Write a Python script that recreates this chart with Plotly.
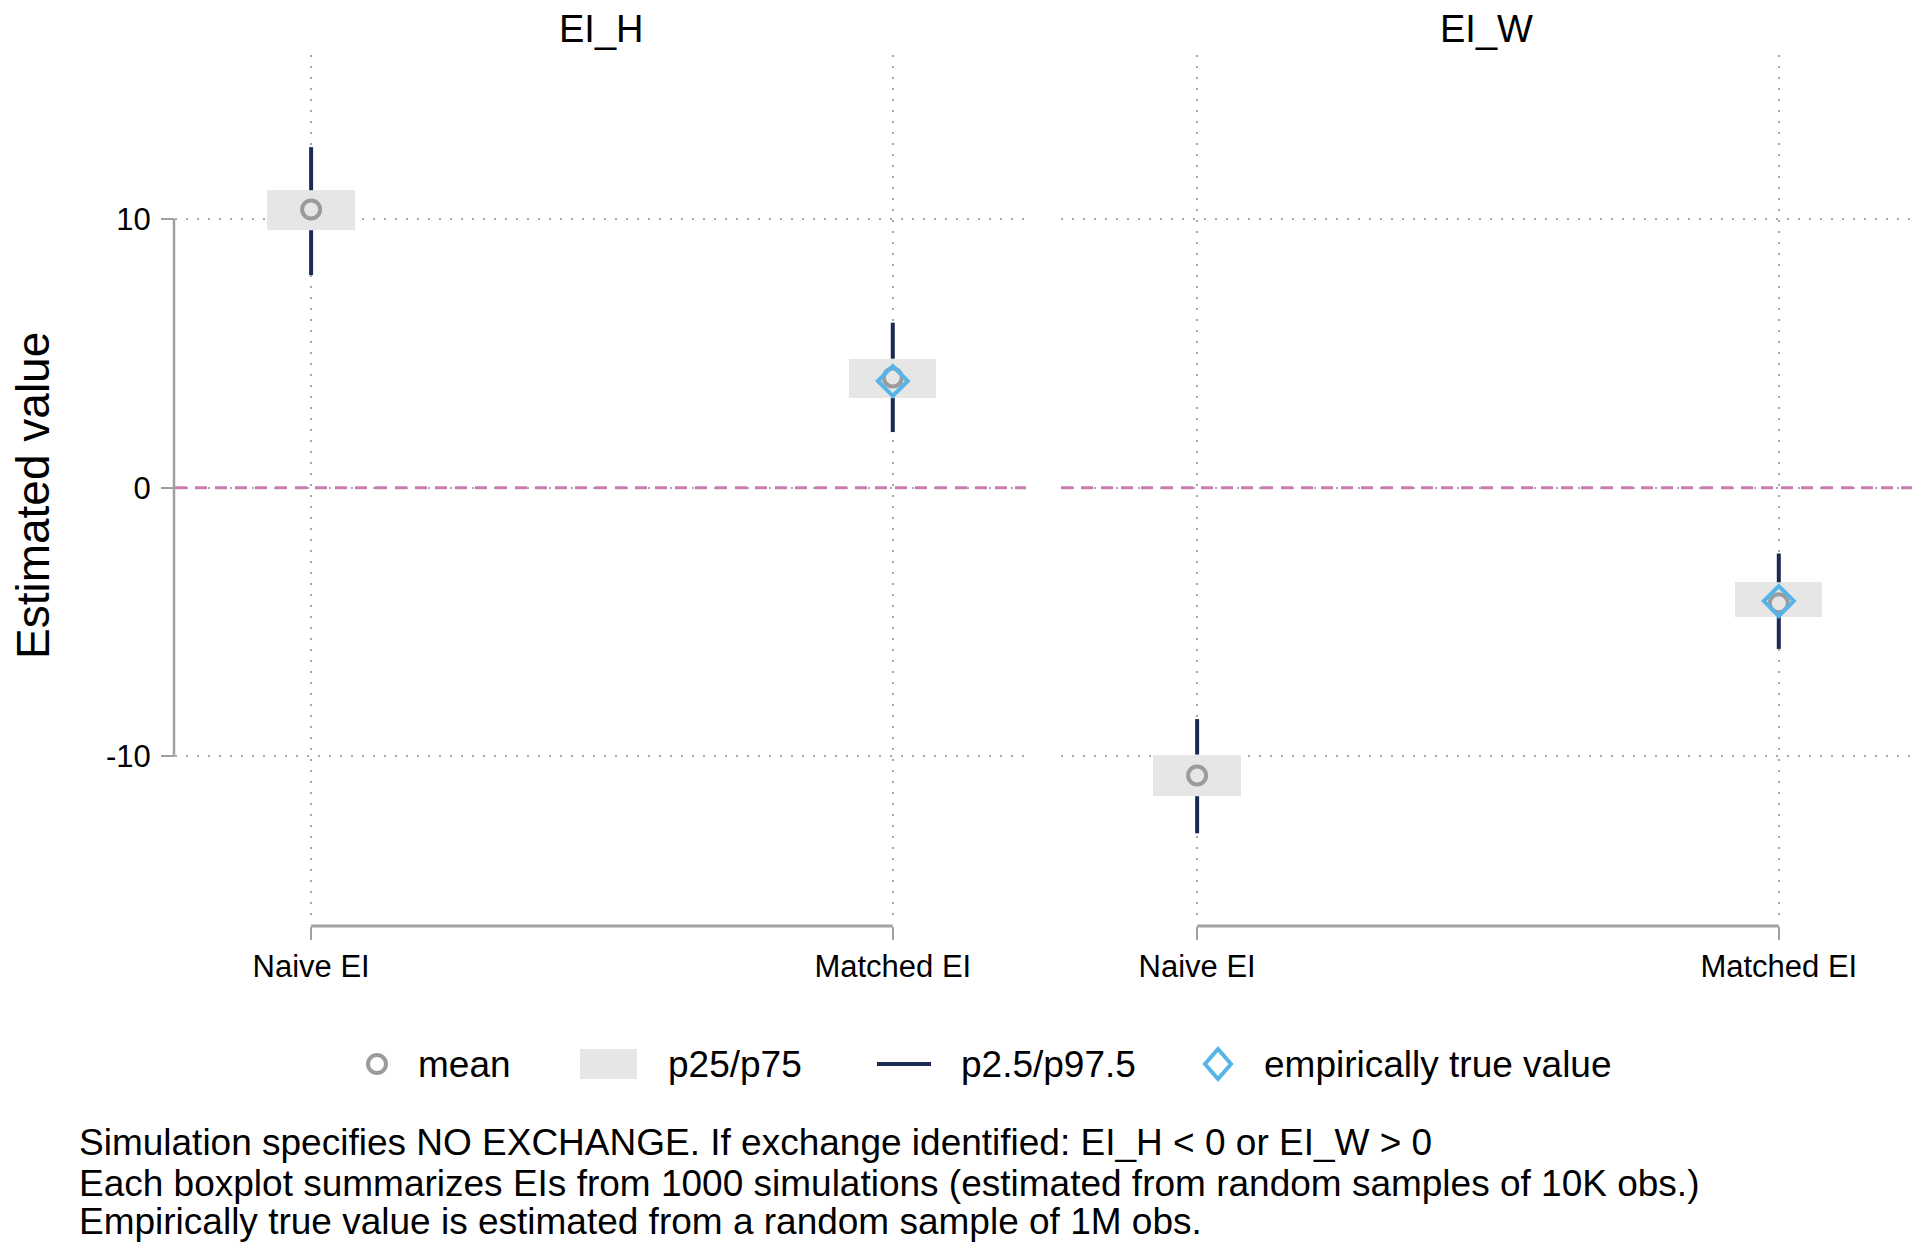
import plotly.graph_objects as go

# ---------------- data ----------------
categories = ["Naive EI", "Matched EI"]
cat_pos = [0, 1]
panels = ["EI_H", "EI_W"]

# EI_H panel
h_mean = [10.35, 4.10]
h_p25 = [9.58, 3.34]
h_p75 = [11.07, 4.80]
h_p2_5 = [7.91, 2.07]
h_p97_5 = [12.67, 6.14]
h_true = [None, 3.97]

# EI_W panel
w_mean = [-10.71, -4.30]
w_p25 = [-11.48, -4.81]
w_p75 = [-9.93, -3.52]
w_p2_5 = [-12.86, -6.00]
w_p97_5 = [-8.61, -2.45]
w_true = [None, -4.22]

y_ticks = [-10, 0, 10]
y_ticktext = ["-10", "0", "10"]
notes = [
    "Simulation specifies NO EXCHANGE. If exchange identified: EI_H < 0 or EI_W > 0",
    "Each boxplot summarizes EIs from 1000 simulations (estimated from random samples of 10K obs.)",
    "Empirically true value is estimated from a random sample of 1M obs.",
]
legend_labels = ["mean", "p25/p75", "p2.5/p97.5", "empirically true value"]

# ---------------- style ----------------
OFF = 8                      # page body margin
W, H = 1920 - OFF, 1247 - OFF
FONT = "Liberation Sans, Arial, Helvetica, sans-serif"
BOX_C = "#e6e6e6"
WHISK_C = "#1b2a55"
MEAN_C = "#9b9b9b"
TRUE_C = "#56b4e9"
ZERO_C = "#c97daf"
GRID_C = "#a8a8a8"
AXIS_C = "#a0a0a0"

def fx(px):
    return (px - OFF) / W

def fy(py):
    return 1 - (py - OFF) / H

x_range = [-0.234, 1.229]
y_range = [-15.9, 16.1]
y_dom = [fy(915), fy(55)]
x_doms = [[fx(175), fx(1026)], [fx(1061), fx(1912)]]
box_w = 0.15

fig = go.Figure()

panel_data = [
    (h_mean, h_p25, h_p75, h_p2_5, h_p97_5, h_true),
    (w_mean, w_p25, w_p75, w_p2_5, w_p97_5, w_true),
]

for i, (mn, p25, p75, lo, hi, tv) in enumerate(panel_data):
    xa = "x" if i == 0 else "x2"
    ya = "y" if i == 0 else "y2"
    # boxes p25/p75
    fig.add_trace(go.Bar(
        x=cat_pos, y=[b - a for a, b in zip(p25, p75)], base=p25,
        width=box_w, marker=dict(color=BOX_C, line=dict(width=0)),
        xaxis=xa, yaxis=ya, showlegend=False, hoverinfo="skip"))
    # whiskers (two segments each)
    wx, wy = [], []
    for c, a, b, c2, d in zip(cat_pos, lo, p25, p75, hi):
        wx += [c, c, None, c, c, None]
        wy += [a, b, None, c2, d, None]
    fig.add_trace(go.Scatter(
        x=wx, y=wy, mode="lines", line=dict(color=WHISK_C, width=4),
        xaxis=xa, yaxis=ya, showlegend=False, hoverinfo="skip"))
    # mean
    fig.add_trace(go.Scatter(
        x=cat_pos, y=mn, mode="markers",
        marker=dict(symbol="circle-open", size=18, color=MEAN_C, line=dict(width=4, color=MEAN_C)),
        xaxis=xa, yaxis=ya, showlegend=False))
    # empirically true value
    fig.add_trace(go.Scatter(
        x=cat_pos, y=tv, mode="markers",
        marker=dict(symbol="diamond-open", size=23, color=TRUE_C, line=dict(width=4, color=TRUE_C)),
        xaxis=xa, yaxis=ya, showlegend=False))

# zero reference lines
for i in range(2):
    xr = "x domain" if i == 0 else "x2 domain"
    yr = "y" if i == 0 else "y2"
    fig.add_shape(type="line", xref=xr, yref=yr, x0=0, x1=1, y0=0, y1=0,
                  line=dict(color=ZERO_C, width=3, dash="12px,8px"), layer="above")

# axis lines (span only tick range, Stata-like)
fig.add_shape(type="line", xref="paper", yref="y", x0=fx(174), x1=fx(174),
              y0=min(y_ticks), y1=max(y_ticks), line=dict(color=AXIS_C, width=2.5))
for i in range(2):
    xr = "x" if i == 0 else "x2"
    fig.add_shape(type="line", xref=xr, yref="paper", x0=min(cat_pos), x1=max(cat_pos),
                  y0=fy(926), y1=fy(926), line=dict(color=AXIS_C, width=3))

grid_common = dict(showgrid=True, gridcolor=GRID_C, gridwidth=1.5, griddash="2px,9px",
                   zeroline=False, showline=False)

xaxis_common = dict(range=x_range, tickvals=cat_pos, ticktext=categories,
                    ticks="outside", ticklen=13, tickwidth=2, tickcolor=AXIS_C,
                    tickfont=dict(size=31, color="black", family=FONT),
                    anchor="free", position=fy(926), **grid_common)

fig.update_layout(
    width=W, height=H,
    margin=dict(l=0, r=0, t=0, b=0),
    paper_bgcolor="white", plot_bgcolor="white",
    font=dict(family=FONT, color="black"),
    showlegend=False,
    bargap=0,
    xaxis=dict(domain=x_doms[0], **xaxis_common),
    xaxis2=dict(domain=x_doms[1], **xaxis_common),
    yaxis=dict(domain=y_dom, range=y_range, tickvals=y_ticks, ticktext=y_ticktext,
               ticks="outside", ticklen=13, tickwidth=2, tickcolor=AXIS_C,
               ticklabelstandoff=4,
               tickfont=dict(size=31, color="black", family=FONT),
               anchor="free", position=fx(174), **grid_common),
    yaxis2=dict(domain=y_dom, range=y_range, tickvals=y_ticks, showticklabels=False,
                ticks="", anchor="x2", **grid_common),
)

# panel titles
for i, name in enumerate(panels):
    cx = (x_doms[i][0] + x_doms[i][1]) / 2
    fig.add_annotation(text=name, xref="paper", yref="paper", x=cx, y=fy(29),
                       xanchor="center", yanchor="middle", showarrow=False,
                       font=dict(size=38, color="black", family=FONT))

# y title
fig.add_annotation(text="Estimated value", xref="paper", yref="paper", x=fx(33), y=fy(496),
                   xanchor="center", yanchor="middle", textangle=-90, showarrow=False,
                   font=dict(size=46, color="black", family=FONT))

# legend (manual)
ly = 1064
fig.add_shape(type="circle", xref="paper", yref="paper",
              x0=fx(377 - 9), x1=fx(377 + 9), y0=fy(ly + 9), y1=fy(ly - 9),
              line=dict(color=MEAN_C, width=4))
fig.add_shape(type="rect", xref="paper", yref="paper",
              x0=fx(580), x1=fx(637), y0=fy(ly + 15), y1=fy(ly - 15),
              fillcolor=BOX_C, line=dict(width=0))
fig.add_shape(type="line", xref="paper", yref="paper",
              x0=fx(877), x1=fx(931), y0=fy(ly), y1=fy(ly),
              line=dict(color=WHISK_C, width=4))
dcx, drx, dry = 1218, 13, 15
path = "M{},{} L{},{} L{},{} L{},{} Z".format(
    fx(dcx), fy(ly - dry), fx(dcx + drx), fy(ly), fx(dcx), fy(ly + dry), fx(dcx - drx), fy(ly))
fig.add_shape(type="path", xref="paper", yref="paper", path=path,
              line=dict(color=TRUE_C, width=4))
for lab, px in zip(legend_labels, [416, 666, 959, 1262]):
    fig.add_annotation(text=lab, xref="paper", yref="paper", x=fx(px), y=fy(ly),
                       xanchor="left", yanchor="middle", showarrow=False,
                       font=dict(size=37, color="black", family=FONT))

# notes
for txt, py in zip(notes, [1142, 1183, 1221]):
    fig.add_annotation(text=txt, xref="paper", yref="paper", x=fx(77), y=fy(py),
                       xanchor="left", yanchor="middle", showarrow=False, align="left",
                       font=dict(size=37, color="black", family=FONT))

fig.write_html("out.html")
